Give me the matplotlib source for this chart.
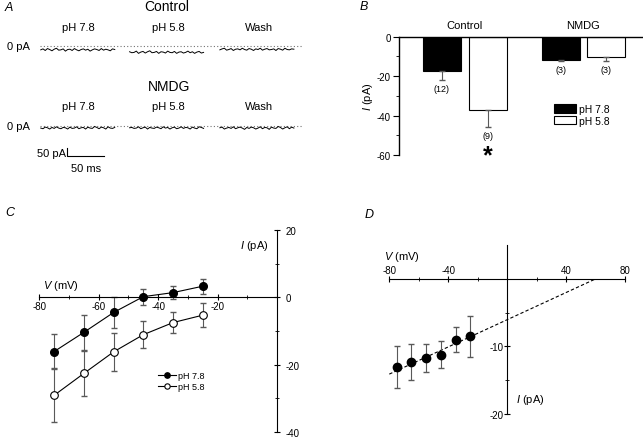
import numpy as np
import matplotlib
matplotlib.use('Agg')
import matplotlib.pyplot as plt
from matplotlib.patches import Patch

plt.rcParams['font.family'] = 'Liberation Sans'
plt.rcParams['mathtext.fontset'] = 'custom'
plt.rcParams['mathtext.it'] = 'Liberation Sans:italic'
plt.rcParams['mathtext.rm'] = 'Liberation Sans'
plt.rcParams['axes.unicode_minus'] = False

# ---- data -------------------------------------------------------------
# A: example traces (pA), 100 ms sweeps
trace_start = [1, 121, 243]            # ms
trace_level_ctrl = [-24, -40, -22]     # pH 7.8, pH 5.8, wash
trace_level_nmdg = [-13, -13, -13]
noise_1 = [0, 6, -4, 8, 2, -6, 4, 10, -2, 0, 6, -8, 2, 4, -4, 8, 0, -6, 2, 6, -2, 4, -8, 0, 6, 2, -4, 8, -2, 4, 0, -6, 6, 2]
noise_2 = [4, -2, 0, 8, -6, 2, 6, -4, 4, 10, -2, 0, 6, -6, 4, 2, -4, 8, 0, -2, 6, -6, 2, 4, -4, 0, 8, -2, 4, -6, 2, 6, -4, 0]
noise_3 = [-2, 4, 8, -4, 0, 6, -6, 2, 4, -2, 8, 0, -4, 6, 2, -6, 4, 0, 8, -4, 2, 6, -2, 0, 4, -6, 6, 2, -4, 8, 0, -2, 4, 2]

# B: mean current
groups = ['Control', 'NMDG']
n_cells = [['(12)', '(9)'], ['(3)', '(3)']]
i_ph78 = [-17.6, -11.8]
i_ph58 = [-37.4, -10.3]
e_ph78 = [4.4, 0.7]
e_ph58 = [8.3, 2.0]

# C: I-V
volt = [-75, -65, -55, -45, -35, -25]
iv_78 = [-16.1, -10.4, -4.5, 0.2, 1.4, 3.3]
iv_78_err = [5.2, 5.2, 4.5, 2.4, 2.0, 2.2]
iv_58 = [-29.1, -22.6, -16.2, -11.1, -7.5, -5.3]
iv_58_err = [8.0, 6.6, 5.6, 4.0, 3.1, 3.6]

# D: difference current + linear fit
diff_i = [-13.1, -12.3, -11.7, -11.2, -9.0, -8.5]
diff_err = [3.1, 2.6, 2.1, 2.0, 1.9, 3.0]
fit_v = [-80, 60]
fit_i = [-14.1, 0]

W, H = 643, 439
fig = plt.figure(figsize=(W/100, H/100), dpi=100)

def rect(l, t, r, b):
    return [l/W, 1 - b/H, (r - l)/W, (b - t)/H]

def ftext(x, y, s, **kw):
    fig.text(x/W, 1 - y/H, s, va='center', **kw)

fs_tick = 7
ecol = '0.35'

# ---- A ----------------------------------------------------------------
axa = fig.add_axes(rect(40, 35, 305, 175))
axa.set_xlim(0, 358)
axa.set_ylim(-800, 75)
axa.axis('off')
noises = [noise_1, noise_2, noise_3]
for row, (zero, levels) in enumerate([(0, trace_level_ctrl), (-500, trace_level_nmdg)]):
    axa.plot([0, 354], [zero, zero], ls=(0, (1, 2)), c='0.45', lw=0.8)
    for k in range(3):
        nz = np.array(noises[(k + row) % 3])
        if row == 1:
            nz = nz[::-1]
        t = np.linspace(trace_start[k], trace_start[k] + 100, len(nz))
        axa.plot(t, zero + levels[k] + nz, c='k', lw=0.7)
# scale bar 50 pA / 50 ms
axa.plot([36.5, 36.5, 86.5], [-637.5, -687.5, -687.5], c='k', lw=0.8)

ftext(5, 8, 'A', style='italic', fontsize=9)
ftext(167, 7, 'Control', ha='center', fontsize=10)
ftext(169, 87, 'NMDG', ha='center', fontsize=10)
for y in [28, 107]:
    ftext(78, y, 'pH 7.8', ha='center', fontsize=8)
    ftext(168, y, 'pH 5.8', ha='center', fontsize=8)
    ftext(259, y, 'Wash', ha='center', fontsize=8)
ftext(30, 47, '0 pA', ha='right', fontsize=8)
ftext(30, 127, '0 pA', ha='right', fontsize=8)
ftext(66, 154, '50 pA', ha='right', fontsize=8)
ftext(86, 169, '50 ms', ha='center', fontsize=8)

# ---- B ----------------------------------------------------------------
axb = fig.add_axes(rect(399, 37.7, 643, 156))
centers = np.array([1.73, 4.85])
off = 0.6
axb.bar(centers - off, i_ph78, width=1.0, color='k', edgecolor='k', lw=0.8)
axb.bar(centers + off, i_ph58, width=1.0, color='white', edgecolor='k', lw=0.8)
axb.errorbar(centers - off, i_ph78, yerr=[e_ph78, [0, 0]], fmt='none', ecolor=ecol, elinewidth=0.8, capsize=2)
axb.errorbar(centers + off, i_ph58, yerr=[e_ph58, [0, 0]], fmt='none', ecolor=ecol, elinewidth=0.8, capsize=2)
for g in range(2):
    axb.text(centers[g] - off, i_ph78[g] - e_ph78[g] - 2, n_cells[g][0], ha='center', va='top', fontsize=6.5)
    axb.text(centers[g] + off, i_ph58[g] - e_ph58[g] - 2, n_cells[g][1], ha='center', va='top', fontsize=6.5)
    axb.text(centers[g], 1.1, groups[g], ha='center', va='center', fontsize=8,
             transform=axb.get_xaxis_transform())
axb.text(centers[0] + off, -60, '*', ha='center', va='center', fontsize=18,
         fontweight='bold', clip_on=False)
axb.set_xlim(0, 6.42)
axb.set_ylim(-60, 0)
axb.set_yticks([0, -20, -40, -60])
axb.set_yticks([-10, -30, -50], minor=True)
axb.set_xticks([])
for s in ['right', 'bottom']:
    axb.spines[s].set_visible(False)
axb.spines['top'].set_linewidth(1.0)
axb.spines['left'].set_linewidth(1.0)
axb.tick_params(axis='y', which='major', length=4, labelsize=fs_tick, pad=2)
axb.tick_params(axis='y', which='minor', length=2.5)
axb.set_ylabel('$I$ (pA)', fontsize=8, labelpad=1)
handles = [Patch(facecolor='k', edgecolor='k', lw=0.8, label='pH 7.8'),
           Patch(facecolor='white', edgecolor='k', lw=0.8, label='pH 5.8')]
axb.legend(handles=handles, loc='upper left', bbox_to_anchor=(0.635, 0.43), frameon=False,
           fontsize=7.5, handlelength=2.1, handleheight=0.85, handletextpad=0.3,
           labelspacing=0.15, borderpad=0, borderaxespad=0)
ftext(360, 7, 'B', style='italic', fontsize=9)

# ---- C ----------------------------------------------------------------
axc = fig.add_axes(rect(39.3, 231, 277, 433))
axc.errorbar(volt, iv_78, yerr=iv_78_err, fmt='none', ecolor=ecol, elinewidth=0.8, capsize=2.5, zorder=2)
axc.errorbar(volt, iv_58, yerr=iv_58_err, fmt='none', ecolor=ecol, elinewidth=0.8, capsize=2.5, zorder=2)
axc.plot(volt, iv_78, '-o', c='k', lw=0.8, ms=5.5, mfc='k', mec='k', zorder=3, label='pH 7.8')
axc.plot(volt, iv_58, '-o', c='k', lw=0.8, ms=5.5, mfc='white', mec='k', mew=0.8, zorder=3, label='pH 5.8')
axc.set_xlim(-80, 0)
axc.set_ylim(-40, 20)
axc.spines['top'].set_visible(False)
axc.spines['left'].set_visible(False)
axc.spines['bottom'].set_position(('data', 0))
axc.yaxis.tick_right()
axc.set_xticks([-80, -60, -40, -20])
axc.set_xticks([-70, -50, -30, -10], minor=True)
axc.set_yticks([20, 0, -20, -40])
axc.set_yticks([10, -10, -30], minor=True)
axc.tick_params(which='major', direction='inout', length=4, labelsize=fs_tick, pad=1)
axc.tick_params(which='minor', direction='inout', length=3)
axc.tick_params(axis='y', pad=4)
axc.text(-78.8, 3.8, '$V$ (mV)', ha='left', va='center', fontsize=8)
axc.text(-3, 15.6, '$I$ (pA)', ha='right', va='center', fontsize=8)
axc.legend(loc='upper left', bbox_to_anchor=(0.5, 0.3), frameon=False, fontsize=6.5,
           handlelength=2.0, handletextpad=0.2, labelspacing=0.2, borderpad=0,
           borderaxespad=0, markerscale=0.7)
ftext(5, 213, 'C', style='italic', fontsize=9)

# ---- D ----------------------------------------------------------------
axd = fig.add_axes(rect(389.3, 246, 625.3, 415))
axd.plot(fit_v, fit_i, ls=(0, (3, 2)), c='k', lw=0.8, zorder=2)
axd.errorbar(volt, diff_i, yerr=diff_err, fmt='none', ecolor=ecol, elinewidth=0.8, capsize=2.5, zorder=2)
axd.plot(volt, diff_i, 'o', c='k', ms=6, zorder=3)
axd.set_xlim(-80, 80)
axd.set_ylim(-20, 5)
axd.spines['right'].set_visible(False)
axd.spines['bottom'].set_visible(False)
axd.spines['left'].set_position(('data', 0))
axd.spines['top'].set_position(('data', 0))
axd.xaxis.set_ticks_position('top')
axd.set_xticks([-80, -40, 40, 80])
axd.set_xticks([-60, -20, 20], minor=True)
axd.set_yticks([-10, -20])
axd.set_yticks([-5, -15], minor=True)
axd.tick_params(which='major', direction='inout', length=4, labelsize=fs_tick, pad=1)
axd.tick_params(which='minor', direction='inout', length=3)
axd.text(-83.9, 3.3, '$V$ (mV)', ha='left', va='center', fontsize=8)
axd.text(5.6, -17.8, '$I$ (pA)', ha='left', va='center', fontsize=8)
ftext(365, 215, 'D', style='italic', fontsize=9)

fig.savefig('out.png', dpi=100)
